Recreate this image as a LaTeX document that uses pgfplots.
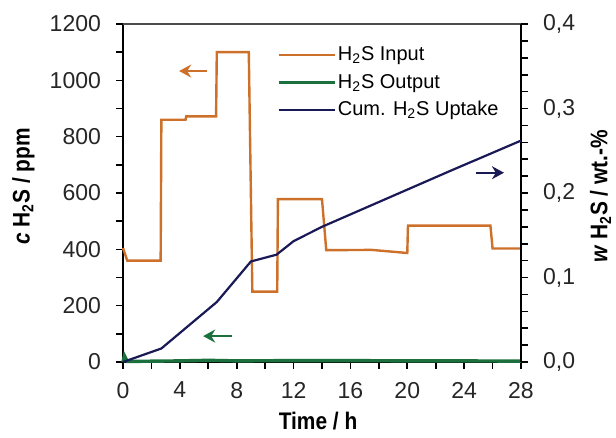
\documentclass[border=0pt]{standalone}
\usepackage{fontspec}
\setmainfont{Liberation Sans}
\newfontfamily\labelfont[FakeStretch=0.87]{Liberation Sans}
\usepackage{pgfplots}
\pgfplotsset{compat=1.18}
\usetikzlibrary{arrows.meta}
\definecolor{inorange}{RGB}{205,112,42}
\definecolor{outgreen}{RGB}{28,112,62}
\definecolor{uptnavy}{RGB}{25,25,85}

\begin{document}
\begin{tikzpicture}
\pgfplotsset{
  every axis/.append style={
    scale only axis, width=199pt, height=169pt,
    xmin=0, xmax=28,
    tick align=outside, major tick length=3.5pt, minor tick length=3.5pt,
    tick style={black, line width=0.8pt},
    tick label style={font=\fontsize{11.5}{13}\selectfont, text=black!85},
    label style={font=\fontsize{12}{14}\selectfont\labelfont\bfseries},
    /pgf/number format/assume math mode=true,
    /pgf/number format/1000 sep={},
    axis line style={line width=1pt, black, -},
  }
}
% left axis: concentrations
\begin{axis}[
  axis x line*=bottom, axis y line*=left,
  ymin=0, ymax=1200,
  xtick={0,4,...,28}, minor xtick={2,6,...,26},
  ytick={0,200,...,1200}, minor ytick={100,300,...,1100},
  xticklabel style={yshift=-3pt},
  yticklabel style={xshift=-4pt},
  xlabel={Time / h},
  ylabel={\textit{c} H\textsubscript{2}S / ppm},
  xlabel style={at={(rel axis cs:0.49,-0.175)}, anchor=center},
  ylabel style={at={(rel axis cs:-0.25,0.52)}, anchor=center},
  clip=false,
]
% H2S input
\addplot[inorange, line width=1.2pt] coordinates {
  (0,405) (0.3,360) (2.65,360) (2.7,860) (4.4,860) (4.45,872) (6.55,872)
  (6.6,1100) (8.85,1100) (9.1,250) (10.85,250) (10.9,578) (14.0,578)
  (14.3,397) (17.5,398) (20.0,387) (20.05,484) (25.85,484) (26.0,403) (28,403)
};
% H2S output
\addplot[outgreen, line width=1.7pt] coordinates {
  (0,0) (0.1,22) (0.3,2) (4,4) (6,6) (8,4) (12,5) (16,5) (20,4) (24,4) (28,3)
};
\draw[inorange, line width=1.1pt, -{Stealth[length=6pt,width=6.5pt]}]
  (axis cs:5.9,1033) -- (axis cs:3.95,1033);
\draw[outgreen, line width=1.1pt, -{Stealth[length=6pt,width=6.5pt]}]
  (axis cs:7.7,92) -- (axis cs:5.64,92);
\draw[uptnavy, line width=1.1pt, -{Stealth[length=6pt,width=6.5pt]}]
  (axis cs:24.8,672) -- (axis cs:26.8,672);
\draw[black!70, line width=0.8pt] (rel axis cs:0,1) -- (rel axis cs:1,1);
\coordinate (bbbl) at (rel axis cs:-0.309,-0.222);
\coordinate (bbtr) at (rel axis cs:1.2387,1.071);
\end{axis}
% right axis: cumulative uptake
\begin{axis}[
  axis x line=none, axis y line*=right,
  ymin=0, ymax=0.4,
  ytick={0,0.1,0.2,0.3,0.4}, minor y tick num=4,
  yticklabel style={xshift=4pt, /pgf/number format/.cd, fixed, fixed zerofill, precision=1, use comma},
  ylabel={\textit{w} H\textsubscript{2}S / wt.-\%},
  ylabel style={at={(rel axis cs:1.20,0.49)}, anchor=center},
  legend style={draw=none, fill=none, at={(0.387,0.94)}, anchor=north west,
    inner sep=0pt, font=\fontsize{10}{12}\selectfont, row sep=3.2pt,
    nodes={inner sep=1pt}},
  legend cell align=left,
  legend image code/.code={\draw[#1] (0pt,0pt) -- (28pt,0pt);},
]
\addlegendimage{inorange, line width=1.2pt}
\addlegendentry{H\textsubscript{2}S Input}
\addlegendimage{outgreen, line width=1.2pt}
\addlegendentry{H\textsubscript{2}S Output}
\addplot[uptnavy, line width=1.1pt] coordinates {
  (0,0) (2.7,0.016) (6.6,0.071) (9.0,0.119) (10.8,0.127) (12,0.143)
  (14,0.160) (20,0.204) (23,0.226) (28,0.262)
};
\addlegendentry{Cum. H\textsubscript{2}S Uptake}
\end{axis}
\pgfresetboundingbox
\path[use as bounding box] (bbbl) rectangle (bbtr);
\end{tikzpicture}
\end{document}
